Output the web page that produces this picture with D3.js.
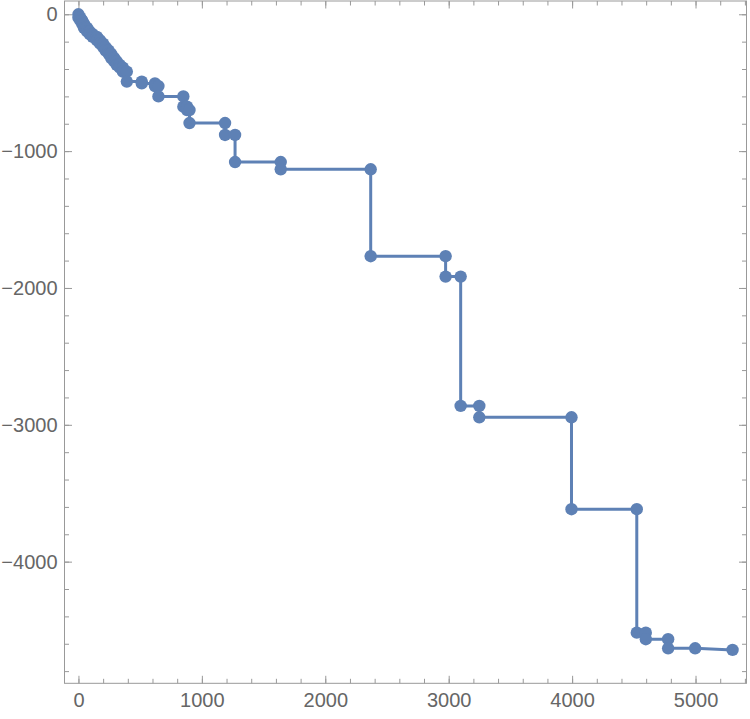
<!DOCTYPE html>
<html>
<head>
<meta charset="utf-8">
<script src="https://cdn.jsdelivr.net/npm/d3@7"></script>
<style>
  body { margin: 0; background: #fff; }
  .frame { fill: none; stroke: #999; stroke-width: 1; }
  .axis .tick line { stroke: #999; }
  .axis .domain { display: none; }
  .axis text { font-family: "Liberation Sans", Arial, sans-serif; font-size: 20px; fill: #666; }
  .line { fill: none; stroke: #5e81b5; stroke-width: 3; stroke-linejoin: round; }
  .dot { fill: #5e81b5; }
</style>
</head>
<body>
<div id="graph"></div>
<script>
// staircase points, in plot order
var stepX = [0, 0, 15, 15, 30, 30, 45, 45, 70, 70, 90, 90, 115, 115, 150, 150, 175, 175, 200, 200,
  220, 220, 245, 245, 265, 265, 290, 290, 310, 310, 335, 335, 360, 360, 392, 392,
  513, 513, 620, 620, 648, 648, 850, 850, 880, 880, 900, 900, 1188, 1188, 1269, 1269, 1639, 1639,
  2368, 2368, 2975, 2975, 3097, 3097, 3248, 3248, 3995, 3995, 4524, 4524, 4597, 4597, 4778, 4778, 4997, 5300];
var stepY = [0, -25, -25, -45, -45, -70, -70, -100, -100, -125, -125, -145, -145, -165, -165, -190, -190, -215, -215, -240,
  -240, -265, -265, -290, -290, -320, -320, -345, -345, -370, -370, -390, -390, -419, -419, -492,
  -492, -505, -505, -525, -525, -600, -600, -675, -675, -700, -700, -795, -795, -882, -882, -1080, -1080, -1133,
  -1133, -1768, -1768, -1917, -1917, -2862, -2862, -2945, -2945, -3617, -3617, -4519, -4519, -4567, -4567, -4633, -4633, -4645];

var xTicks = [0, 1000, 2000, 3000, 4000, 5000];
var yTicks = [0, -1000, -2000, -3000, -4000];
var xMinor = d3.range(0, 5401, 200);
var yMinor = d3.range(0, -4801, -200);

var w = 750, h = 719;
var fLeft = 64.5, fRight = 746.5, fTop = 1, fBottom = 683.3; // frame edges

var points = stepX.map(function(d, i) { return { x: d, y: stepY[i] }; });

var x = d3.scaleLinear().domain([-113, 5413]).range([fLeft, fRight]);
var y = d3.scaleLinear().domain([97, -4889]).range([fTop, fBottom]);

var svg = d3.select("#graph").append("svg")
  .attr("width", w)
  .attr("height", h);

function fmt(d) { return d < 0 ? "\u2212" + Math.abs(d) : String(d); }

// minor ticks
svg.append("g").attr("class", "axis")
  .attr("transform", "translate(0," + fBottom + ")")
  .call(d3.axisBottom(x).tickValues(xMinor).tickSizeInner(-4.5).tickSizeOuter(0).tickFormat(""));
svg.append("g").attr("class", "axis")
  .attr("transform", "translate(0," + fTop + ")")
  .call(d3.axisTop(x).tickValues(xMinor).tickSizeInner(-4.5).tickSizeOuter(0).tickFormat(""));
svg.append("g").attr("class", "axis")
  .attr("transform", "translate(" + fLeft + ",0)")
  .call(d3.axisLeft(y).tickValues(yMinor).tickSizeInner(-4.5).tickSizeOuter(0).tickFormat(""));
svg.append("g").attr("class", "axis")
  .attr("transform", "translate(" + fRight + ",0)")
  .call(d3.axisRight(y).tickValues(yMinor).tickSizeInner(-4.5).tickSizeOuter(0).tickFormat(""));

// major ticks
svg.append("g").attr("class", "axis")
  .attr("transform", "translate(0," + fBottom + ")")
  .call(d3.axisBottom(x).tickValues(xTicks).tickSizeInner(-7.5).tickSizeOuter(0).tickPadding(9.5).tickFormat(fmt));
svg.append("g").attr("class", "axis")
  .attr("transform", "translate(0," + fTop + ")")
  .call(d3.axisTop(x).tickValues(xTicks).tickSizeInner(-7.5).tickSizeOuter(0).tickFormat(""));
svg.append("g").attr("class", "axis")
  .attr("transform", "translate(" + fLeft + ",0)")
  .call(d3.axisLeft(y).tickValues(yTicks).tickSizeInner(-7.5).tickSizeOuter(0).tickPadding(7).tickFormat(fmt));
svg.append("g").attr("class", "axis")
  .attr("transform", "translate(" + fRight + ",0)")
  .call(d3.axisRight(y).tickValues(yTicks).tickSizeInner(-7.5).tickSizeOuter(0).tickFormat(""));

svg.append("rect")
  .attr("class", "frame")
  .attr("x", fLeft).attr("y", fTop)
  .attr("width", fRight - fLeft).attr("height", fBottom - fTop);

var line = d3.line()
  .x(function(d) { return x(d.x); })
  .y(function(d) { return y(d.y); });

svg.append("path")
  .attr("class", "line")
  .attr("d", line(points));

svg.selectAll(".dot")
  .data(points)
  .enter().append("circle")
  .attr("class", "dot")
  .attr("cx", function(d) { return x(d.x); })
  .attr("cy", function(d) { return y(d.y); })
  .attr("r", 6.2);
</script>
</body>
</html>
